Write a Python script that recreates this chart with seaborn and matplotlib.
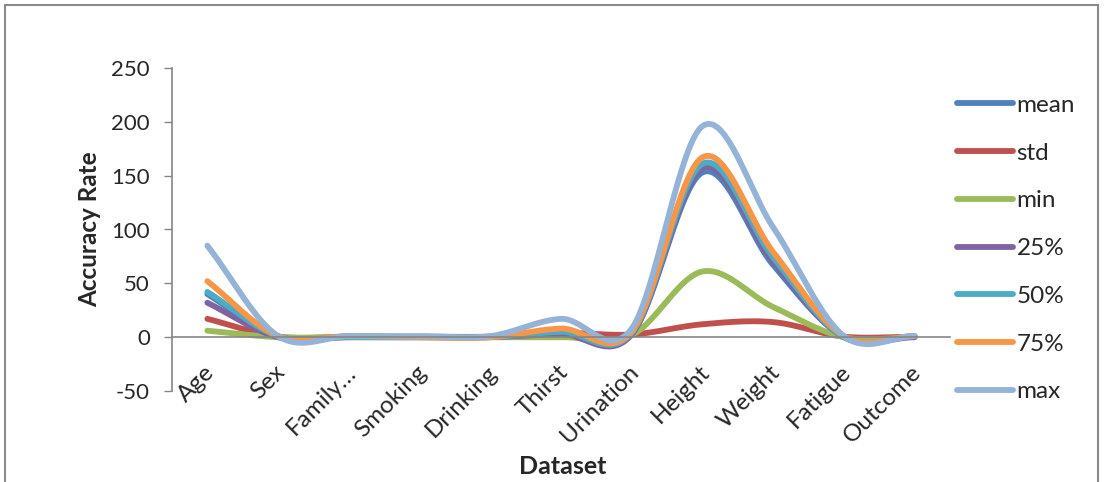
import numpy as np
import pandas as pd
import matplotlib
matplotlib.use("Agg")
import matplotlib.pyplot as plt
import matplotlib.transforms as mtransforms
from matplotlib.patches import Rectangle
from matplotlib.lines import Line2D
import seaborn as sns

categories = ["Age", "Sex", "Family\u2026", "Smoking", "Drinking", "Thirst",
              "Urination", "Height", "Weight", "Fatigue", "Outcome"]
mean_vals = [40, 0.6, 0.4, 0.3, 0.3, 5, 3, 153, 67, 0.5, 0.5]
std_vals = [17, 0.5, 0.5, 0.5, 0.5, 4, 2.5, 12, 14, 0.5, 0.5]
min_vals = [6, 0, 0, 0, 0, 0, 2, 61, 28, 0, 0]
p25_vals = [32, 0, 0, 0, 0, 3, 2.5, 157, 70, 0, 0]
p50_vals = [42, 1, 0, 0, 0, 5, 4, 161, 74, 0, 1]
p75_vals = [52, 1, 1, 0, 0, 8, 5, 167, 79, 1, 1]
max_vals = [85, 1, 1, 1, 1, 17, 8, 196, 102, 1, 1]

series_names = ["mean", "std", "min", "25%", "50%", "75%", "max"]
series_values = [mean_vals, std_vals, min_vals, p25_vals, p50_vals, p75_vals, max_vals]
colors = ["#4F81BD", "#C0504D", "#9BBB59", "#8064A2", "#4BACC6", "#F79646", "#95B3D7"]


def smooth(y, n=40):
    """Catmull-Rom spline through the points (like Excel smoothed lines)."""
    y = np.asarray(y, dtype=float)
    x = np.arange(len(y), dtype=float)
    p = np.concatenate([[2 * y[0] - y[1]], y, [2 * y[-1] - y[-2]]])
    xs, ys = [], []
    for i in range(len(y) - 1):
        p0, p1, p2, p3 = p[i], p[i + 1], p[i + 2], p[i + 3]
        t = np.linspace(0, 1, n, endpoint=(i == len(y) - 2))
        yy = 0.5 * ((2 * p1) + (-p0 + p2) * t + (2 * p0 - 5 * p1 + 4 * p2 - p3) * t ** 2
                    + (-p0 + 3 * p1 - 3 * p2 + p3) * t ** 3)
        xs.append(x[i] + t)
        ys.append(yy)
    return np.concatenate(xs), np.concatenate(ys)


frames = []
for name, vals in zip(series_names, series_values):
    xs, ys = smooth(vals)
    frames.append(pd.DataFrame({"x": xs, "y": ys, "series": name}))
df = pd.concat(frames, ignore_index=True)

sns.set_theme(style="white")
plt.rcParams["font.family"] = ["Lato", "DejaVu Sans"]
plt.rcParams["axes.unicode_minus"] = False

fig = plt.figure(figsize=(11.04, 4.82), dpi=100)
ax = fig.add_axes([172 / 1104, 1 - 391 / 482, (950 - 172) / 1104, (391 - 68) / 482])

sns.lineplot(data=df, x="x", y="y", hue="series", hue_order=series_names,
             palette=colors, linewidth=4.2, ax=ax, sort=False, estimator=None,
             legend=False)
for ln in ax.lines:
    ln.set_solid_capstyle("round")
    ln.set_solid_joinstyle("round")

for s in ["top", "right"]:
    ax.spines[s].set_visible(False)
ax.spines["left"].set_color("#868686")
ax.spines["bottom"].set_color("#868686")
ax.spines["bottom"].set_position(("data", 0))
ax.spines["left"].set_linewidth(1.2)
ax.spines["bottom"].set_linewidth(1.2)

ax.set_xlim(-0.5, len(categories) - 0.5)
ax.set_ylim(-50, 250)
ax.set_yticks([-50, 0, 50, 100, 150, 200, 250])
ax.set_xticks(range(len(categories)))
ax.set_xticklabels(categories, rotation=45, ha="right", va="top",
                   rotation_mode="anchor", fontsize=17.5)
ax.tick_params(axis="y", labelsize=16, length=6, width=1, color="#868686",
               direction="out", pad=10, left=True)
ax.tick_params(axis="x", length=0, pad=6)
offset = mtransforms.ScaledTranslation(-4 / 100, -16 / 100, fig.dpi_scale_trans)
for lbl in ax.get_xticklabels():
    lbl.set_transform(lbl.get_transform() + offset)

ax.set_xlabel("")
ax.set_ylabel("Accuracy Rate", fontsize=17.5, fontweight="bold", labelpad=7)
fig.text(563 / 1104, 1 - 467 / 482, "Dataset", fontsize=18, fontweight="bold",
         ha="center", va="center")

handles = [Line2D([0], [0], color=c, lw=4.2, solid_capstyle="round") for c in colors]
leg = fig.legend(handles, series_names, loc="upper left",
                 bbox_to_anchor=(935 / 1104, 1 - 73 / 482), frameon=False,
                 fontsize=17.5, handlelength=2.3, handletextpad=0.15,
                 labelspacing=1.1)

fig.patches.append(Rectangle((5 / 1104, -0.1), 1093 / 1104, 1.1 - 5 / 482,
                             transform=fig.transFigure, fill=False,
                             edgecolor="#8a8a8a", linewidth=1.5, clip_on=False))

fig.savefig("out.png", dpi=100)
